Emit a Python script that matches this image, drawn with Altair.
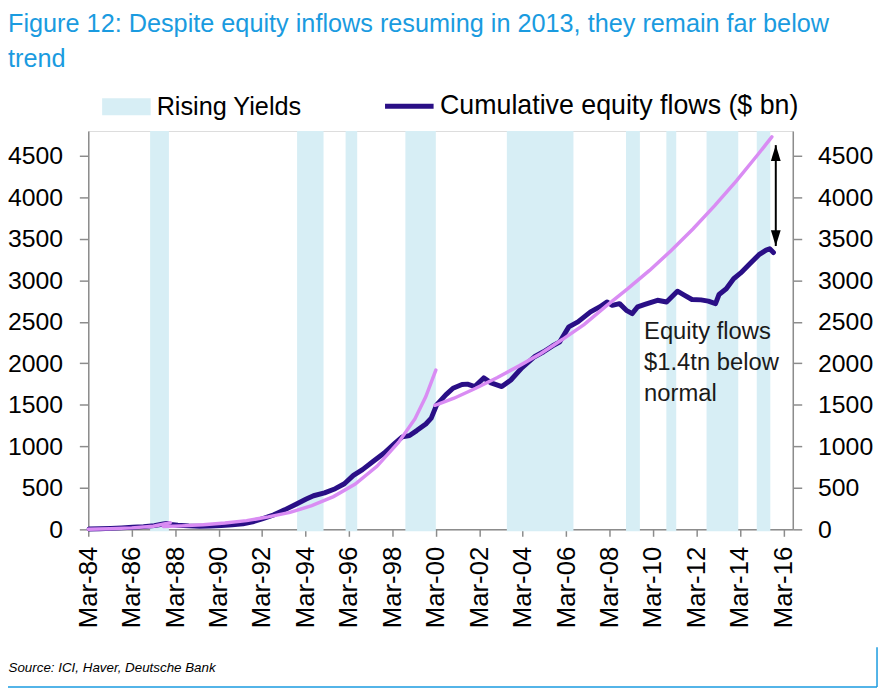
import altair as alt
import pandas as pd

# ---------------- data ----------------
band_start = ["1987-01-05", "1993-10-11", "1996-01-05", "1998-10-06", "2003-06-08",
              "2008-12-02", "2010-10-11", "2012-08-17", "2014-12-09"]
band_end = ["1987-11-17", "1994-12-30", "1996-07-18", "2000-03-01", "2006-07-02",
            "2009-07-23", "2011-03-26", "2014-02-01", "2015-07-25"]

flow_dates = ["1984-03-15", "1984-09-15", "1985-03-15", "1985-09-15", "1986-03-15", "1986-09-15",
              "1987-03-15", "1987-08-15", "1987-10-15", "1987-12-15", "1988-04-15", "1988-10-15",
              "1989-04-15", "1989-10-15", "1990-04-15", "1990-10-15", "1991-04-15", "1991-10-15",
              "1992-03-15", "1992-09-15", "1993-03-15", "1993-09-15", "1994-03-15", "1994-07-15",
              "1995-01-15", "1995-07-15", "1995-12-15", "1996-05-15", "1996-10-15", "1997-04-15",
              "1997-10-15", "1998-04-15", "1998-08-15", "1998-12-15", "1999-04-15", "1999-09-15",
              "1999-12-15", "2000-03-15", "2000-08-15", "2000-12-15", "2001-05-15", "2001-08-15",
              "2001-12-15", "2002-05-15", "2002-09-15", "2003-03-15", "2003-08-15", "2004-02-15",
              "2004-09-15", "2005-02-15", "2005-07-15", "2005-11-15", "2006-04-15", "2006-09-15",
              "2007-04-15", "2007-09-15", "2008-01-15", "2008-04-15", "2008-08-15", "2008-12-15",
              "2009-03-15", "2009-06-15", "2009-10-15", "2010-05-15", "2010-10-15", "2011-04-15",
              "2011-08-15", "2011-12-15", "2012-05-15", "2012-09-15", "2013-01-15", "2013-03-15",
              "2013-07-15", "2013-11-15", "2014-03-15", "2014-08-15", "2015-01-15", "2015-05-15",
              "2015-07-15", "2015-09-15"]
flow_values = [5, 8, 12, 18, 25, 33,
               45, 65, 72, 60, 50, 42,
               38, 40, 45, 55, 68, 95,
               130, 175, 235, 300, 365, 405,
               440, 490, 550, 650, 720, 820,
               920, 1040, 1115, 1130, 1190, 1270,
               1340, 1500, 1620, 1700, 1745, 1750,
               1720, 1825, 1765, 1720, 1800, 1945,
               2080, 2140, 2210, 2260, 2440, 2500,
               2620, 2680, 2740, 2700, 2720, 2635,
               2600, 2680, 2710, 2760, 2740, 2870,
               2820, 2770, 2765, 2750, 2720, 2830,
               2900, 3020, 3090, 3200, 3310, 3365,
               3380, 3335]

trend_a_dates = ["1984-03-01", "1985-03-01", "1986-03-01", "1987-03-01", "1987-12-10"]
trend_a_values = [2, 8, 18, 38, 80]

trend_b_dates = ["1987-08-15", "1988-06-15", "1989-06-15", "1990-06-15", "1991-06-15", "1992-06-15",
                 "1993-06-15", "1994-06-15", "1995-06-15", "1996-06-15", "1997-06-15", "1998-06-15",
                 "1999-03-15", "1999-09-15", "2000-03-01"]
trend_b_values = [35, 42, 55, 76, 105, 150, 205, 285, 395, 545, 760, 1050, 1330, 1600, 1920]

trend_c_dates = ["2000-02-15", "2001-01-01", "2002-01-01", "2003-01-01", "2004-01-01", "2005-01-01",
                 "2006-01-01", "2007-01-01", "2008-01-01", "2009-01-01", "2010-01-01", "2011-01-01",
                 "2012-01-01", "2013-01-01", "2014-01-01", "2015-01-01", "2015-08-20"]
trend_c_values = [1495, 1580, 1700, 1830, 1970, 2120, 2290, 2470, 2690, 2900, 3120, 3360,
                  3620, 3900, 4200, 4520, 4730]

arrow_date = ["2015-10-25"]
arrow_top = [4630]
arrow_bottom = [3414]

note_date = ["2009-10-01"]
note_value = [2515]
note_text = ["Equity flows\n$1.4tn below\nnormal"]

y_ticks = [0, 500, 1000, 1500, 2000, 2500, 3000, 3500, 4000, 4500]
x_tick_years = list(range(1984, 2017, 2))

title_lines = ["Figure 12: Despite equity inflows resuming in 2013, they remain far below", "trend"]
source_text = "Source: ICI, Haver, Deutsche Bank"
band_label = "Rising Yields"
flow_label = "Cumulative equity flows ($ bn)"

# ---------------- styling ----------------
FONT = "Liberation Sans, Arial, Helvetica, sans-serif"
BAND = "#d7eef5"
NAVY = "#2a0f86"
VIOLET = "#d98cf3"
AXIS_GRAY = "#8c8c8c"
BLUE = "#1a9be0"

bands = pd.DataFrame({"start": band_start, "end": band_end, "series": band_label})
flows = pd.DataFrame({"date": flow_dates, "value": flow_values, "series": flow_label})
trend = pd.DataFrame({
    "date": trend_a_dates + trend_b_dates + trend_c_dates,
    "value": trend_a_values + trend_b_values + trend_c_values,
    "seg": ["a"] * len(trend_a_dates) + ["b"] * len(trend_b_dates) + ["c"] * len(trend_c_dates),
})
arrow_df = pd.DataFrame({"date": arrow_date, "top": arrow_top, "bottom": arrow_bottom})
heads_df = pd.DataFrame({"date": arrow_date * 2, "value": arrow_top + arrow_bottom, "dir": ["up", "down"]})
note_df = pd.DataFrame({"date": note_date, "value": note_value, "text": note_text})
frame_df = pd.DataFrame({"k": [0]})

xscale = alt.Scale(type="utc", domain=[alt.DateTime(year=1984, month=3, date=1, utc=True),
                                       alt.DateTime(year=2016, month=8, date=6, utc=True)])
yscale = alt.Scale(domain=[0, 4800], nice=False, zero=True)

xaxis = alt.Axis(
    values=[alt.DateTime(year=y, month=3, date=1, utc=True) for y in x_tick_years],
    format="%b-%y", labelAngle=-90, labelFontSize=26, labelFont=FONT, labelColor="black",
    tickSize=7, tickColor=AXIS_GRAY, tickWidth=1.5, domainColor=AXIS_GRAY, domainWidth=1.5,
    labelPadding=10, grid=False, labelOverlap=False, labelFlush=False,
    title=source_text, titleX=-81, titleY=139, titleAlign="left", titleAnchor="start",
    titleBaseline="middle", titleFontSize=13.5, titleFontStyle="italic", titleFontWeight="normal",
    titleFont="Liberation Sans Narrow, Liberation Sans, Arial, sans-serif", titleColor="black",
)

def yaxis(orient, pad):
    return alt.Axis(
        orient=orient, values=y_ticks, format="d", labelFontSize=25, labelFont=FONT,
        labelColor="black", tickSize=9, tickColor=AXIS_GRAY, tickWidth=1.5,
        domainColor=AXIS_GRAY, domainWidth=1.5, labelPadding=pad, grid=False, title=None,
        labelFlush=False,
    )

band_layer = alt.Chart(bands).mark_rect().encode(
    x=alt.X("start:T", scale=xscale, axis=xaxis),
    x2="end:T",
    y=alt.value(0), y2=alt.value(404),
    fill=alt.Fill("series:N", scale=alt.Scale(domain=[band_label], range=[BAND]),
                  legend=alt.Legend(orient="none", legendX=14, legendY=-49, title=None,
                                    symbolType="M-1,-0.347H1V0.347H-1Z", symbolSize=2401,
                                    symbolStrokeWidth=0, symbolOpacity=1,
                                    labelFontSize=25.5, labelFont=FONT, labelColor="black",
                                    labelOffset=6, labelLimit=0, padding=0)),
)

flow_layer = alt.Chart(flows).mark_line(strokeWidth=5, strokeJoin="round", strokeCap="round").encode(
    x=alt.X("date:T", scale=xscale, axis=xaxis),
    y=alt.Y("value:Q", scale=yscale, axis=yaxis("left", 17)),
    stroke=alt.Stroke("series:N", scale=alt.Scale(domain=[flow_label], range=[NAVY]),
                      legend=alt.Legend(orient="none", legendX=297, legendY=-52, title=None,
                                        symbolType="stroke", symbolSize=2401, symbolStrokeWidth=5,
                                        labelFontSize=27, labelFont=FONT, labelColor="black",
                                        labelOffset=4, labelLimit=0, padding=0)),
)

trend_layer = alt.Chart(trend).mark_line(strokeWidth=3.5, color=VIOLET, strokeCap="round").encode(
    x=alt.X("date:T", scale=xscale, axis=xaxis),
    y=alt.Y("value:Q", scale=yscale, axis=yaxis("right", 16)),
    detail="seg:N",
)

arrow_rule = alt.Chart(arrow_df).mark_rule(strokeWidth=2, color="black").encode(
    x=alt.X("date:T", scale=xscale, axis=xaxis),
    y=alt.Y("top:Q", scale=yscale, axis=None),
    y2="bottom:Q",
)

arrow_heads = alt.Chart(heads_df).mark_point(filled=True, color="black", size=256, opacity=1).encode(
    x=alt.X("date:T", scale=xscale, axis=xaxis),
    y=alt.Y("value:Q", scale=yscale, axis=None),
    shape=alt.Shape("dir:N", scale=alt.Scale(domain=["up", "down"],
                                             range=["M0,0L0.62,2L-0.62,2Z", "M0,0L0.62,-2L-0.62,-2Z"]),
                    legend=None),
)

note_layer = alt.Chart(note_df).mark_text(align="left", baseline="top", fontSize=24, font=FONT,
                                          color="#1a1a1a", lineBreak="\n", lineHeight=31).encode(
    x=alt.X("date:T", scale=xscale, axis=xaxis),
    y=alt.Y("value:Q", scale=yscale, axis=None),
    text="text:N",
)

frame_bottom = alt.Chart(frame_df).mark_rule(color=BLUE, strokeWidth=1.5).encode(
    x=alt.value(-86), x2=alt.value(796), y=alt.value(561))
frame_right = alt.Chart(frame_df).mark_rule(color=BLUE, strokeWidth=1.5).encode(
    x=alt.value(796), y=alt.value(521), y2=alt.value(561))

chart = alt.layer(
    band_layer, flow_layer, trend_layer, arrow_rule, arrow_heads, note_layer, frame_bottom, frame_right
).resolve_axis(y="independent").resolve_scale(y="shared").properties(
    width=711, height=402,
    autosize=alt.AutoSizeParams(type="none"),
    padding={"left": 81, "top": 121, "right": 87, "bottom": 162},
    title=alt.TitleParams(text=title_lines, anchor="start", frame="group", fontSize=25.5, font=FONT,
                          color=BLUE, fontWeight="normal", lineHeight=35, dx=-81, dy=-7, offset=0),
).configure_view(stroke=None).configure(background="white")

chart.save("out.html", embed_options={"renderer": "svg", "actions": False})
